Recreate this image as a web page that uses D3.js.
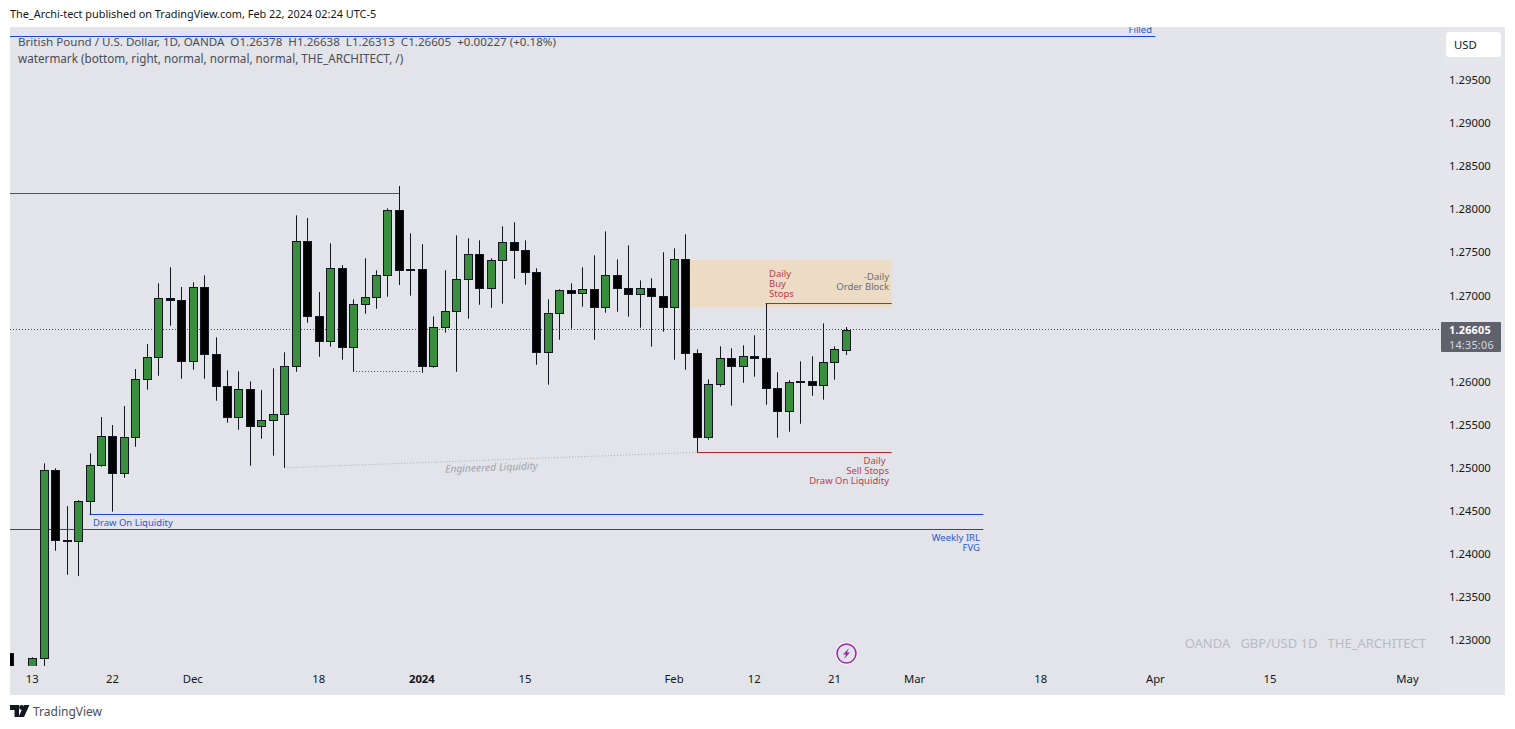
<!DOCTYPE html>
<html>
<head>
<meta charset="utf-8">
<script src="https://cdn.jsdelivr.net/npm/d3@7"></script>
<style>
  html, body { margin: 0; padding: 0; background: #fff; }
  svg { display: block; }
  text { font-family: "Noto Sans", sans-serif; }
</style>
</head>
<body>
<div id="graph"></div>
<script>
// bar slots on the time axis, 0 = Nov 13 (weekends, Dec 25 and Jan 1 have no slot)
const barSlots = [-2, ...d3.range(0, 72)];
const opens = [1.22851, 1.22633, 1.22788, 1.24975, 1.24166, 1.24146, 1.24611, 1.25033, 1.25370, 1.24940, 1.25358, 1.26031, 1.26286, 1.26972, 1.26949, 1.26240, 1.27099, 1.26322, 1.25950, 1.25590, 1.25915, 1.25486, 1.25555, 1.25625, 1.26182, 1.27633, 1.26762, 1.26472, 1.27320, 1.26403, 1.26902, 1.26983, 1.27239, 1.27993, 1.27311, 1.27308, 1.26182, 1.26635, 1.26821, 1.27192, 1.27482, 1.27088, 1.27413, 1.27621, 1.27529, 1.27273, 1.26345, 1.26798, 1.27065, 1.27030, 1.27076, 1.26867, 1.27239, 1.27088, 1.27018, 1.27088, 1.26995, 1.26867, 1.27424, 1.26333, 1.25358, 1.25973, 1.26275, 1.26182, 1.26298, 1.26275, 1.25927, 1.25660, 1.26008, 1.26008, 1.25962, 1.26229, 1.26378];
const highs = [1.22851, 1.22804, 1.25056, 1.24998, 1.24560, 1.24630, 1.25172, 1.25594, 1.25501, 1.25722, 1.26151, 1.26441, 1.27146, 1.27332, 1.27103, 1.27158, 1.27239, 1.26519, 1.26136, 1.26124, 1.26008, 1.25907, 1.26159, 1.26345, 1.27935, 1.27904, 1.27045, 1.27610, 1.27358, 1.26960, 1.27436, 1.27297, 1.28016, 1.28275, 1.27726, 1.27599, 1.26762, 1.27297, 1.27703, 1.27668, 1.27645, 1.27436, 1.27807, 1.27854, 1.27645, 1.27320, 1.26960, 1.27076, 1.27146, 1.27332, 1.27471, 1.27749, 1.27424, 1.27587, 1.27180, 1.27204, 1.27506, 1.27552, 1.27715, 1.26380, 1.26031, 1.26415, 1.26391, 1.26426, 1.26542, 1.26914, 1.26113, 1.26023, 1.26240, 1.26298, 1.26681, 1.26415, 1.26638];
const lows = [1.22309, 1.22541, 1.22703, 1.24042, 1.23763, 1.23748, 1.24464, 1.25017, 1.24495, 1.24889, 1.25249, 1.25911, 1.26073, 1.26654, 1.26038, 1.26143, 1.26038, 1.25783, 1.25528, 1.25446, 1.25029, 1.25342, 1.25145, 1.25005, 1.26119, 1.26688, 1.26293, 1.26410, 1.26259, 1.26124, 1.26793, 1.26851, 1.26990, 1.27126, 1.27002, 1.26108, 1.26166, 1.26572, 1.26119, 1.26735, 1.26897, 1.26862, 1.26909, 1.27199, 1.27129, 1.26201, 1.25969, 1.26491, 1.26619, 1.26874, 1.26491, 1.26804, 1.26816, 1.26758, 1.26630, 1.26410, 1.26584, 1.26259, 1.26143, 1.25184, 1.25330, 1.25945, 1.25725, 1.25992, 1.26062, 1.25737, 1.25354, 1.25423, 1.25516, 1.25841, 1.25795, 1.26027, 1.26313];
const closes = [1.22425, 1.22793, 1.24975, 1.24158, 1.24149, 1.24615, 1.25033, 1.25370, 1.24940, 1.25358, 1.26031, 1.26286, 1.26972, 1.26949, 1.26240, 1.27099, 1.26322, 1.25950, 1.25590, 1.25915, 1.25486, 1.25555, 1.25625, 1.26182, 1.27633, 1.26762, 1.26472, 1.27320, 1.26403, 1.26902, 1.26983, 1.27239, 1.27993, 1.27297, 1.27304, 1.26182, 1.26635, 1.26821, 1.27192, 1.27482, 1.27088, 1.27413, 1.27621, 1.27529, 1.27273, 1.26345, 1.26798, 1.27065, 1.27030, 1.27076, 1.26867, 1.27239, 1.27088, 1.27018, 1.27088, 1.26995, 1.26867, 1.27424, 1.26333, 1.25358, 1.25973, 1.26275, 1.26182, 1.26298, 1.26275, 1.25927, 1.25660, 1.25997, 1.26000, 1.25962, 1.26229, 1.26380, 1.26605];

const priceTicks = [1.295, 1.29, 1.285, 1.28, 1.275, 1.27, 1.265, 1.26, 1.255, 1.25, 1.245, 1.24, 1.235, 1.23];
const timeTickSlots = [0, 7, 14, 25, 34, 43, 56, 63, 70, 77, 88, 98, 108, 120];
const timeTickLabels = ["13", "22", "Dec", "18", "2024", "15", "Feb", "12", "21", "Mar", "18", "Apr", "15", "May"];

const lastPrice = 1.26605;
const legendLines = [
    "British Pound / U.S. Dollar, 1D, OANDA  O1.26378  H1.26638  L1.26313  C1.26605  +0.00227 (+0.18%)",
    "watermark (bottom, right, normal, normal, normal, THE_ARCHITECT, /)"
];

// drawn levels: from slot, to slot, price
const blueLevels = [[-3, 98, 1.30005], [5, 83, 1.24464], [-3, 83, 1.24290]];
const redLevels = [[-3, 32, 1.28194], [64, 75, 1.26914], [58, 75, 1.25184]];
const orderBlock = [57, 75, 1.27416, 1.26870];
const swingDotted = [28, 34, 1.26124];
const engineered = [22, 1.25005, 58, 1.25184];

const width = 1515;
const height = 729;

const BG = "#e2e4e9";
const TEXT = "#131722";
const UP = "#388e3c";
const DOWN = "#000000";
const BORDER = "#131722";
const BLUE = "#1848cc";
const RED = "#b22833";
const AXIS_SIZE = 11.3;

const svg = d3.select("#graph").append("svg")
    .attr("width", width).attr("height", height)
    .style("background-color", "#FFFFFF");

const x = d3.scaleLinear().domain([0, 71]).range([32.2, 845.9]);
const y = d3.scaleLinear().domain([1.23, 1.295]).range([640.5, 80.5]);
const crisp = v => Math.round(v) + 0.5;

svg.append("rect").attr("x", 10).attr("y", 27).attr("width", 1495).attr("height", 668).attr("fill", BG);
svg.append("rect").attr("x", 1441).attr("y", 27).attr("width", 64).attr("height", 668).attr("fill", "#e4e6eb");

svg.append("defs").append("clipPath").attr("id", "plot-clip")
    .append("rect").attr("x", 10).attr("y", 27).attr("width", 1431).attr("height", 639);

const plotArea = svg.append("g").attr("clip-path", "url(#plot-clip)");

// Order block under everything
plotArea.append("rect")
    .attr("x", x(orderBlock[0])).attr("width", x(orderBlock[1]) - x(orderBlock[0]))
    .attr("y", y(orderBlock[2])).attr("height", y(orderBlock[3]) - y(orderBlock[2]))
    .attr("fill", "#ecdcc6");

// Last price line
plotArea.append("line")
    .attr("x1", 10).attr("x2", 1441).attr("y1", crisp(y(lastPrice) - 0.5)).attr("y2", crisp(y(lastPrice) - 0.5))
    .attr("stroke", "#4a4d58").attr("stroke-dasharray", "1,2");

// Levels
const drawLevels = (levels, color) => plotArea.append("g").selectAll("line").data(levels).join("line")
    .attr("x1", d => x(d[0])).attr("x2", d => x(d[1]))
    .attr("y1", d => crisp(y(d[2]) - 0.5)).attr("y2", d => crisp(y(d[2]) - 0.5))
    .attr("stroke", color);
drawLevels(blueLevels, BLUE);
drawLevels(redLevels, RED);

plotArea.append("line")
    .attr("x1", x(swingDotted[0])).attr("x2", x(swingDotted[1]))
    .attr("y1", crisp(y(swingDotted[2]))).attr("y2", crisp(y(swingDotted[2])))
    .attr("stroke", RED).attr("stroke-dasharray", "1,2");

plotArea.append("line")
    .attr("x1", x(engineered[0])).attr("y1", y(engineered[1]))
    .attr("x2", x(engineered[2])).attr("y2", y(engineered[3]))
    .attr("stroke", "#a9acb5").attr("stroke-dasharray", "1,2");

// Candles
const candles = plotArea.append("g").selectAll("g").data(barSlots).join("g");
candles.append("line")
    .attr("x1", d => crisp(x(d))).attr("x2", d => crisp(x(d)))
    .attr("y1", (d, i) => y(highs[i])).attr("y2", (d, i) => y(lows[i]))
    .attr("stroke", BORDER);
candles.append("rect")
    .attr("x", d => crisp(x(d)) - 4).attr("width", 8)
    .attr("y", (d, i) => crisp(y(Math.max(opens[i], closes[i]))))
    .attr("height", (d, i) => Math.max(1, Math.round(Math.abs(y(opens[i]) - y(closes[i])))))
    .attr("fill", (d, i) => closes[i] >= opens[i] ? UP : DOWN)
    .attr("stroke", BORDER);

// Annotation texts
const note = (tx, ty, str, color, anchor) => plotArea.append("text")
    .attr("x", tx).attr("y", ty).attr("fill", color).attr("text-anchor", anchor || "start")
    .attr("font-size", 9.5).text(str);

note(1152, 33, "Filled", "#3058d0", "end");
note(769, 277, "Daily", "#b8404c");
note(769, 287, "Buy", "#b8404c");
note(769, 297, "Stops", "#b8404c");
note(889, 280, "-Daily", "#6a6d78", "end");
note(889, 290, "Order Block", "#6a6d78", "end");
note(885.5, 464, "Daily", "#b8404c", "end");
note(889, 474, "Sell Stops", "#b8404c", "end");
note(889, 484, "Draw On Liquidity", "#b8404c", "end");
note(93, 526, "Draw On Liquidity", "#3058d0");
note(980, 541, "Weekly IRL", "#3058d0", "end");
note(980, 551, "FVG", "#3058d0", "end");

plotArea.append("text")
    .attr("transform", "translate(491.5,471) rotate(-2.1)")
    .attr("text-anchor", "middle").attr("font-size", 10.3).attr("font-style", "italic")
    .attr("fill", "#9fa2ab").text("Engineered Liquidity");

plotArea.append("text")
    .attr("x", 1426).attr("y", 648).attr("text-anchor", "end").attr("font-size", 13)
    .attr("fill", "#b8bbc4").style("white-space", "pre").text("OANDA   GBP/USD 1D   THE_ARCHITECT");

// Axes
const priceAxis = svg.append("g").attr("transform", "translate(1441,0)")
    .call(d3.axisRight(y).tickValues(priceTicks).tickSize(0).tickPadding(8).tickFormat(d3.format(".5f")));
const timeAxis = svg.append("g").attr("transform", "translate(0,666)")
    .call(d3.axisBottom(x).tickValues(timeTickSlots).tickSize(0).tickPadding(9)
        .tickFormat((d, i) => timeTickLabels[i]));
[priceAxis, timeAxis].forEach(a => {
    a.select(".domain").remove();
    a.selectAll("text").attr("fill", TEXT).attr("font-size", AXIS_SIZE)
        .style("font-family", '"Noto Sans", sans-serif');
});
priceAxis.selectAll("text").attr("y", -0.5);
timeAxis.selectAll("text").attr("dx", -0.5).filter(d => d === 34).attr("font-weight", "bold");

// Header and legend
svg.append("text").attr("x", 10).attr("y", 18).attr("font-size", 10.9).attr("fill", TEXT)
    .text("The_Archi-tect published on TradingView.com, Feb 22, 2024 02:24 UTC-5");
svg.append("g").selectAll("text").data(legendLines).join("text")
    .attr("x", 18).attr("y", (d, i) => 46 + i * 17)
    .attr("font-size", (d, i) => i ? 11.7 : 11.6).attr("fill", "#4a4d58").style("white-space", "pre").text(d => d);

// Currency and last price tags
svg.append("rect").attr("x", 1446).attr("y", 32).attr("width", 55).attr("height", 25).attr("rx", 3).attr("fill", "#fff");
svg.append("text").attr("x", 1454).attr("y", 49).attr("font-size", AXIS_SIZE).attr("fill", TEXT).text("USD");
svg.append("rect").attr("x", 1441).attr("y", 322).attr("width", 60).attr("height", 30).attr("rx", 1).attr("fill", "#5f616d");
svg.append("text").attr("x", 1449).attr("y", 333.5).attr("font-size", 10.8).attr("letter-spacing", 0.25).attr("font-weight", "bold").attr("fill", "#fff").text(d3.format(".5f")(lastPrice));
svg.append("text").attr("x", 1449).attr("y", 349).attr("font-size", 10.8).attr("letter-spacing", 0.25).attr("fill", "#d6d8de").text("14:35:06");

// Lightning badge
const badge = svg.append("g").attr("transform", "translate(846.5,653.5)");
badge.append("circle").attr("r", 11).attr("fill", "#fff");
badge.append("circle").attr("r", 9.5).attr("fill", BG).attr("stroke", "#9c27b0").attr("stroke-width", 1.6);
badge.append("path").attr("d", "M2.5,-5.5 L-3.5,1 L-0.5,1 L-2.5,5.5 L3.5,-1 L0.5,-1 Z").attr("fill", "#9c27b0");

// TradingView logo
const logo = svg.append("g").attr("transform", "translate(10,705)").attr("fill", TEXT);
logo.append("path").attr("d", "M0,0 H9 V12 H4.5 V5 H0 Z");
logo.append("circle").attr("cx", 11.5).attr("cy", 2.5).attr("r", 2.4);
logo.append("path").attr("d", "M14,0 H19.5 L14,12 H8.5 Z");
svg.append("text").attr("x", 33).attr("y", 716).attr("font-size", 12).attr("fill", "#4a4d58").text("TradingView");
</script>
</body>
</html>
